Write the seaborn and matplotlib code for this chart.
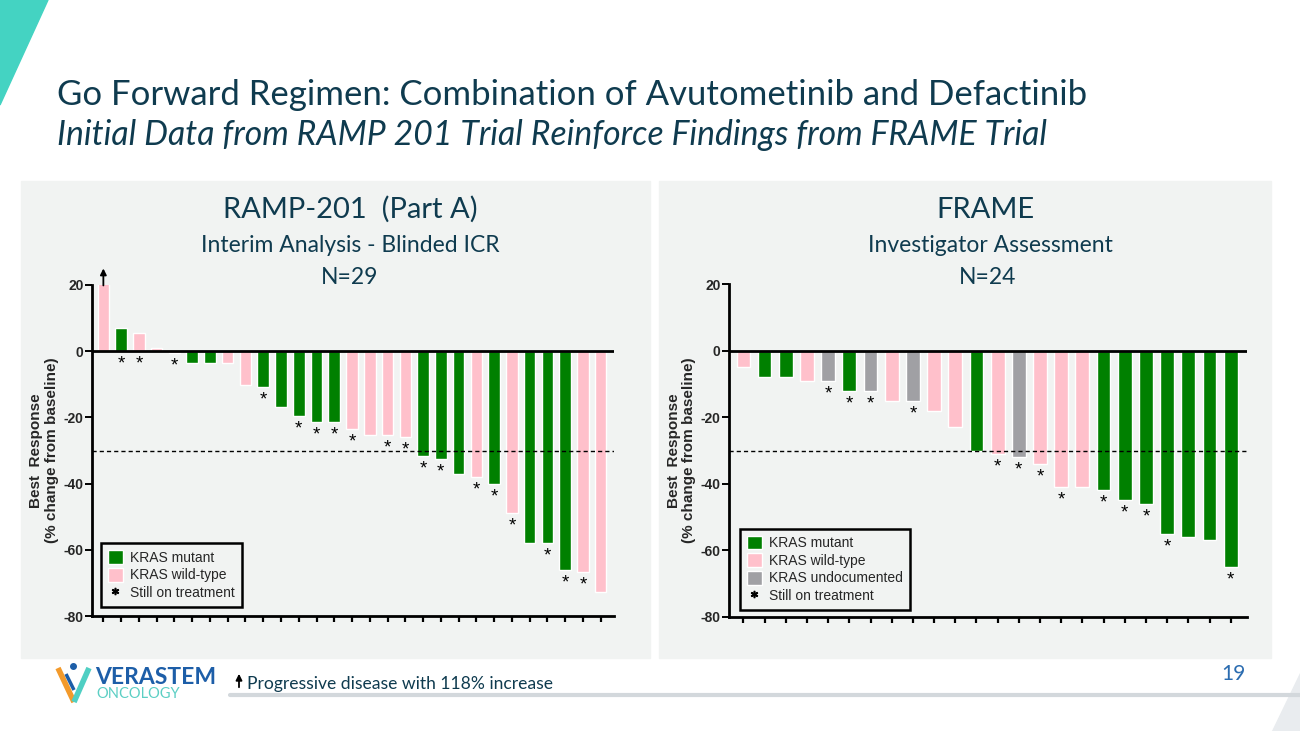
import matplotlib
matplotlib.use("Agg")
import matplotlib.pyplot as plt
from matplotlib.patches import Patch, Rectangle, Polygon, FancyArrowPatch
from matplotlib.lines import Line2D
import seaborn as sns
import pandas as pd

# RAMP-201 (Part A): best response, % change from baseline (first patient +118%, off the scale)
ramp_values = [118, 7, 5.5, 1, -0.5, -3.5, -3.5, -3.5, -10.2, -10.8, -16.9, -19.6, -21.3, -21.3,
               -23.5, -25.3, -25.4, -26, -31.8, -32.7, -37, -38.1, -40, -48.8, -57.8, -57.8,
               -66, -66.6, -72.8]
ramp_kras = ["KRAS wild-type", "KRAS mutant", "KRAS wild-type", "KRAS wild-type", "KRAS wild-type",
             "KRAS mutant", "KRAS mutant", "KRAS wild-type", "KRAS wild-type", "KRAS mutant",
             "KRAS mutant", "KRAS mutant", "KRAS mutant", "KRAS mutant", "KRAS wild-type",
             "KRAS wild-type", "KRAS wild-type", "KRAS wild-type", "KRAS mutant", "KRAS mutant",
             "KRAS mutant", "KRAS wild-type", "KRAS mutant", "KRAS wild-type", "KRAS mutant",
             "KRAS mutant", "KRAS mutant", "KRAS wild-type", "KRAS wild-type"]
ramp_on_tx = [0, 1, 1, 0, 1, 0, 0, 0, 0, 1, 0, 1, 1, 1, 1, 0, 1, 1, 1, 1, 0, 1, 1, 1, 0, 1, 1, 1, 0]

# FRAME: investigator assessment
frame_values = [-5, -8, -8, -9, -9, -12, -12, -15, -15, -18, -23, -30, -31, -32, -34, -41, -41,
                -42, -45, -46, -55, -56, -57, -65]
frame_kras = ["KRAS wild-type", "KRAS mutant", "KRAS mutant", "KRAS wild-type", "KRAS undocumented",
              "KRAS mutant", "KRAS undocumented", "KRAS wild-type", "KRAS undocumented",
              "KRAS wild-type", "KRAS wild-type", "KRAS mutant", "KRAS wild-type",
              "KRAS undocumented", "KRAS wild-type", "KRAS wild-type", "KRAS wild-type",
              "KRAS mutant", "KRAS mutant", "KRAS mutant", "KRAS mutant", "KRAS mutant",
              "KRAS mutant", "KRAS mutant"]
frame_on_tx = [0, 0, 0, 0, 1, 1, 1, 0, 1, 0, 0, 0, 1, 1, 1, 1, 0, 1, 1, 1, 1, 0, 0, 1]

y_ticks = [20, 0, -20, -40, -60, -80]
pr_threshold = -30

KRAS_ORDER = ["KRAS mutant", "KRAS wild-type", "KRAS undocumented"]
KRAS_COLORS = {"KRAS mutant": "#008000", "KRAS wild-type": "#ffc0cb",
               "KRAS undocumented": "#a0a0a4"}
NAVY = "#0f3b4f"
PANEL = "#f1f3f2"

W, H = 1300, 731

sns.set_theme(style="ticks")
plt.rcParams["font.family"] = ["Liberation Sans", "DejaVu Sans"]


def fx(px):
    return px / W


def fy(py):
    return 1 - py / H


def draw_waterfall(ax, values, kras, on_tx, xlim, legend_anchor):
    df = pd.DataFrame({"patient": range(len(values)), "response": values, "kras": kras})
    order = [k for k in KRAS_ORDER if k in kras]
    sns.barplot(data=df, x="patient", y="response", hue="kras", hue_order=order,
                palette=KRAS_COLORS, dodge=False, width=0.65, saturation=1,
                legend=False, ax=ax)
    ax.set_facecolor("none")
    ax.set_ylim(y_ticks[-1], y_ticks[0])
    ax.set_xlim(*xlim)
    ax.set_yticks(y_ticks)
    ax.set_yticklabels([str(t) for t in y_ticks], fontweight="bold", fontsize=10)
    ax.set_xticks(range(len(values)))
    ax.set_xticklabels([])
    ax.set_xlabel("")
    ax.tick_params(axis="y", length=5, width=1.4, pad=1, color="black")
    ax.tick_params(axis="x", length=4, width=1.6, color="black")
    for side in ["top", "right"]:
        ax.spines[side].set_visible(False)
    for side in ["left", "bottom"]:
        ax.spines[side].set_linewidth(2)
        ax.spines[side].set_color("black")
    ax.axhline(0, color="black", lw=2, zorder=3)
    ax.axhline(pr_threshold, color="black", lw=1, ls=(0, (3, 2.2)), zorder=3)

    ax.set_ylabel("Best  Response\n(% change from baseline)", fontweight="bold",
                  fontsize=11, linespacing=1.1)
    ax.yaxis.set_label_coords(-0.064, 0.5)

    top = y_ticks[0]
    for i, (v, star) in enumerate(zip(values, on_tx)):
        if star:
            ax.annotate("*", (i, min(v, 0)), xytext=(0, -13), textcoords="offset pixels",
                        ha="center", va="center", fontsize=13.5, color="black")
        if v > top:
            ax.annotate("", xy=(i, 1.05), xycoords=ax.get_xaxis_transform(),
                        xytext=(0, -17), textcoords="offset pixels",
                        arrowprops=dict(arrowstyle="-|>", color="black", lw=1.3,
                                        mutation_scale=9, shrinkA=0, shrinkB=0),
                        annotation_clip=False)

    handles = [Patch(facecolor=KRAS_COLORS[k], edgecolor="white", label=k) for k in order]
    handles.append(Line2D([], [], marker="$*$", ls="none", color="black", markersize=4.5,
                          label="Still on treatment"))
    leg = ax.legend(handles=handles, loc="lower left", bbox_to_anchor=legend_anchor,
                    frameon=True, fancybox=False, edgecolor="black", facecolor=PANEL,
                    framealpha=1, fontsize=10, handlelength=1.1, handleheight=1.15,
                    handletextpad=0.5, labelspacing=0.22, borderpad=0.5, borderaxespad=0)
    leg.get_frame().set_linewidth(1.8)


fig = plt.figure(figsize=(W / 100, H / 100), dpi=100)
fig.patch.set_facecolor("white")

# panels
fig.add_artist(Rectangle((fx(21), fy(658)), fx(650) - fx(21), fy(181) - fy(658),
                         transform=fig.transFigure, color=PANEL, zorder=-2))
fig.add_artist(Rectangle((fx(659), fy(658)), fx(1271) - fx(659), fy(181) - fy(658),
                         transform=fig.transFigure, color=PANEL, zorder=-2))

# decorative corners
fig.add_artist(Polygon([(fx(0), fy(0)), (fx(48), fy(0)), (fx(0), fy(105))],
                       transform=fig.transFigure, color="#44d3c2", zorder=-1))
fig.add_artist(Polygon([(fx(1272), fy(731)), (fx(1300), fy(731)), (fx(1300), fy(673))],
                       transform=fig.transFigure, color="#e9ecef", zorder=-1))

ax1 = fig.add_axes([fx(92), fy(616), fx(614) - fx(92), fy(285) - fy(616)])
draw_waterfall(ax1, ramp_values, ramp_kras, ramp_on_tx, (-0.64, 28.75), (0.017, 0.027))

ax2 = fig.add_axes([fx(729), fy(617), fx(1247) - fx(729), fy(284) - fy(617)])
draw_waterfall(ax2, frame_values, frame_kras, frame_on_tx, (-0.68, 23.77), (0.021, 0.021))

# titles
fig.text(fx(57), fy(105), "Go Forward Regimen: Combination of Avutometinib and Defactinib",
         fontsize=25, color=NAVY, family="Lato", va="baseline")
fig.text(fx(57), fy(145), "Initial Data from RAMP 201 Trial Reinforce Findings from FRAME Trial",
         fontsize=24.3, color=NAVY, family="Lato", style="italic", va="baseline")

fig.text(fx(350), fy(218), "RAMP-201  (Part A)", fontsize=21, color=NAVY, family="Lato",
         ha="center", va="baseline")
fig.text(fx(350), fy(252), "Interim Analysis - Blinded ICR", fontsize=16.5, color=NAVY,
         family="Lato", ha="center", va="baseline")
fig.text(fx(350), fy(284), "N=29", fontsize=16.5, color=NAVY, family="Lato",
         ha="center", va="baseline")
fig.text(fx(985), fy(218), "FRAME", fontsize=21, color=NAVY, family="Lato",
         ha="center", va="baseline")
fig.text(fx(990), fy(252), "Investigator Assessment", fontsize=16.5, color=NAVY,
         family="Lato", ha="center", va="baseline")
fig.text(fx(988), fy(284), "N=24", fontsize=16.5, color=NAVY, family="Lato",
         ha="center", va="baseline")

# footer
fig.add_artist(Line2D([fx(230), fx(1300)], [fy(695), fy(695)], transform=fig.transFigure,
                      color="#d3d8dc", lw=3))
fig.add_artist(FancyArrowPatch((fx(239), fy(690)), (fx(239), fy(671)),
                               transform=fig.transFigure, arrowstyle="-|>",
                               mutation_scale=9, color="black", lw=1.3))
fig.text(fx(247), fy(689), "Progressive disease with 118% increase", fontsize=12.6,
         color=NAVY, family="Lato", va="baseline")
fig.text(fx(1233), fy(680), "19", fontsize=15, color="#2b6cb0", family="Lato",
         ha="center", va="baseline")

# logo
fig.add_artist(Line2D([fx(58), fx(74)], [fy(668), fy(702)], transform=fig.transFigure,
                      color="#f39a2b", lw=4, solid_capstyle="butt"))
fig.add_artist(Line2D([fx(89), fx(74)], [fy(668), fy(702)], transform=fig.transFigure,
                      color="#4fcfc3", lw=4, solid_capstyle="butt"))
fig.add_artist(Line2D([fx(66), fx(74)], [fy(674), fy(690)], transform=fig.transFigure,
                      color="#1d5ea8", lw=2.5, solid_capstyle="butt"))
fig.add_artist(Line2D([fx(73)], [fy(666)], transform=fig.transFigure, marker="o",
                      markersize=4, color="#1d5ea8"))
fig.text(fx(95), fy(684), "VERASTEM", fontsize=16.5, color="#1d5ea8", family="Lato",
         fontweight="bold", va="baseline")
fig.text(fx(96), fy(698), "ONCOLOGY", fontsize=10.5, color="#5ccfc4", family="Lato",
         va="baseline")

fig.savefig("out.png", dpi=100)
